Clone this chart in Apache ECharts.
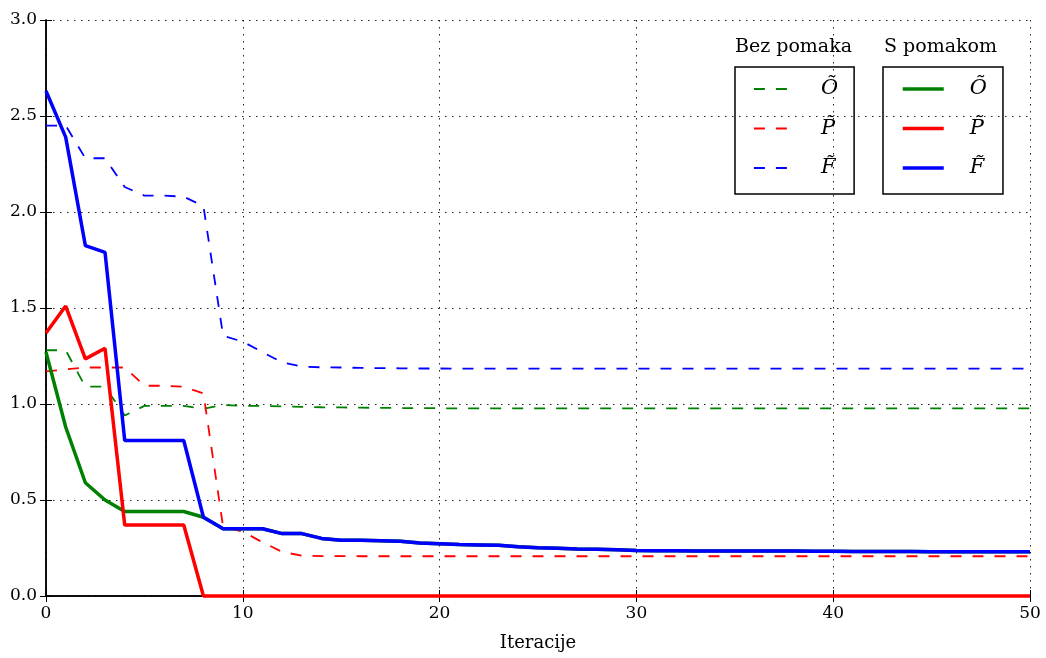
<!DOCTYPE html>
<html>
<head>
<meta charset="utf-8">
<script src="https://cdn.jsdelivr.net/npm/echarts@6/dist/echarts.min.js"></script>
<style>
  html, body { margin: 0; padding: 0; background: #fff; }
  #chart { width: 1046px; height: 658px; }
</style>
</head>
<body>
<div id="chart"></div>
<script>
// iteracije 0..50
const iters = Array.from({ length: 51 }, (_, i) => i)

// Bez pomaka (isprekidano)
const oBez = [1.28, 1.28, 1.09, 1.09, 0.94, 0.99, 0.99, 0.99, 0.975, 0.995,
  0.99, 0.99, 0.987, 0.985, 0.983, 0.982, 0.981, 0.980, 0.979, 0.978,
  0.978, 0.977, 0.977, 0.977, 0.977, 0.977, 0.977, 0.977, 0.977, 0.977,
  0.977, 0.977, 0.977, 0.977, 0.977, 0.977, 0.977, 0.977, 0.977, 0.977,
  0.977, 0.977, 0.977, 0.977, 0.977, 0.977, 0.977, 0.977, 0.977, 0.977, 0.977]
const pBez = [1.17, 1.18, 1.19, 1.19, 1.19, 1.095, 1.095, 1.09, 1.055, 0.36,
  0.335, 0.28, 0.23, 0.21, 0.208, 0.208, 0.207, 0.207, 0.207, 0.207,
  0.207, 0.207, 0.207, 0.207, 0.207, 0.207, 0.207, 0.207, 0.207, 0.207,
  0.207, 0.207, 0.207, 0.207, 0.207, 0.207, 0.207, 0.207, 0.207, 0.207,
  0.207, 0.207, 0.207, 0.207, 0.207, 0.207, 0.207, 0.207, 0.207, 0.207, 0.207]
const fBez = [2.45, 2.45, 2.28, 2.28, 2.13, 2.085, 2.085, 2.08, 2.03, 1.355,
  1.325, 1.27, 1.217, 1.195, 1.191, 1.19, 1.188, 1.187, 1.186, 1.185,
  1.185, 1.184, 1.184, 1.184, 1.184, 1.184, 1.184, 1.184, 1.184, 1.184,
  1.184, 1.184, 1.184, 1.184, 1.184, 1.184, 1.184, 1.184, 1.184, 1.184,
  1.184, 1.184, 1.184, 1.184, 1.184, 1.184, 1.184, 1.184, 1.184, 1.184, 1.184]

// S pomakom (puna linija)
const oS = [1.27, 0.88, 0.59, 0.50, 0.44, 0.44, 0.44, 0.44, 0.41, 0.35,
  0.35, 0.35, 0.325, 0.325, 0.30, 0.29, 0.29, 0.288, 0.285, 0.276,
  0.272, 0.268, 0.266, 0.264, 0.256, 0.251, 0.249, 0.245, 0.243, 0.241,
  0.237, 0.236, 0.236, 0.235, 0.235, 0.235, 0.234, 0.234, 0.234, 0.233,
  0.233, 0.232, 0.232, 0.232, 0.232, 0.231, 0.231, 0.231, 0.231, 0.230, 0.230]
const pS = [1.37, 1.51, 1.235, 1.29, 0.37, 0.37, 0.37, 0.37, 0, 0,
  0, 0, 0, 0, 0, 0, 0, 0, 0, 0,
  0, 0, 0, 0, 0, 0, 0, 0, 0, 0,
  0, 0, 0, 0, 0, 0, 0, 0, 0, 0,
  0, 0, 0, 0, 0, 0, 0, 0, 0, 0, 0]
const fS = [2.63, 2.39, 1.825, 1.79, 0.81, 0.81, 0.81, 0.81, 0.41, 0.35,
  0.35, 0.35, 0.325, 0.325, 0.30, 0.29, 0.29, 0.288, 0.285, 0.276,
  0.272, 0.268, 0.266, 0.264, 0.256, 0.251, 0.249, 0.245, 0.243, 0.241,
  0.237, 0.236, 0.236, 0.235, 0.235, 0.235, 0.234, 0.234, 0.234, 0.233,
  0.233, 0.232, 0.232, 0.232, 0.232, 0.231, 0.231, 0.231, 0.231, 0.230, 0.230]

const labels = { oBez: 'Õ', pBez: 'P̃', fBez: 'F̃', oS: 'Õ', pS: 'P̃', fS: 'F̃' }
const groupTitles = ['Bez pomaka', 'S pomakom']

const GREEN = '#008000', RED = '#ff0000', BLUE = '#0000ff'
const FONT = 'DejaVu Serif'

const chart = echarts.init(document.getElementById('chart'), null, { renderer: 'canvas' })

const pairs = arr => iters.map((x, i) => [x, arr[i]])

function dashed(name, data, color) {
  return {
    name, type: 'line', data: pairs(data), symbol: 'none', clip: false,
    lineStyle: { color, width: 1.8, type: [11, 11] },
    itemStyle: { color }, z: 2,
  }
}
function solid(name, data, color) {
  return {
    name, type: 'line', data: pairs(data), symbol: 'none', clip: false,
    lineStyle: { color, width: 3.5 },
    itemStyle: { color }, z: 3,
  }
}

const axisLine = { show: true, lineStyle: { color: '#000', width: 1.5 } }
const tick = { show: true, inside: true, length: 6, lineStyle: { color: '#000', width: 1 } }
const grid = { lineStyle: { color: '#222', width: 1, type: [1.5, 5.5] } }

const legendBase = {
  orient: 'vertical', top: 67, selectedMode: false,
  itemWidth: 41, itemHeight: 14, itemGap: 15.5,
  padding: [10, 16, 14, 18],
  borderColor: '#000', borderWidth: 1.5,
  itemStyle: { opacity: 0 },
  formatter: name => labels[name],
  textStyle: { fontFamily: FONT, fontStyle: 'italic', fontSize: 21, lineHeight: 24, color: '#000', padding: [0, 0, 0, 21] },
}

chart.setOption({
  animation: false,
  backgroundColor: '#fff',
  grid: { left: 46, right: 16, top: 20, bottom: 62 },
  textStyle: { fontFamily: FONT },
  legend: [
    Object.assign({}, legendBase, { left: 735, data: ['oBez', 'pBez', 'fBez'], lineStyle: { width: 1.8 } }),
    Object.assign({}, legendBase, { left: 883, data: ['oS', 'pS', 'fS'], lineStyle: { width: 3.5 } }),
  ],
  graphic: [
    { type: 'text', left: 735, top: 38, style: { text: groupTitles[0], font: '19px "DejaVu Serif"', fill: '#000' } },
    { type: 'text', left: 884, top: 38, style: { text: groupTitles[1], font: '19px "DejaVu Serif"', fill: '#000' } },
  ],
  xAxis: [
    {
      type: 'value', min: 0, max: 50, interval: 10, position: 'bottom',
      name: 'Iteracije', nameLocation: 'middle', nameGap: 38,
      nameTextStyle: { fontFamily: FONT, fontSize: 18, color: '#000' },
      axisLine, axisTick: tick,
      axisLabel: { color: '#000', fontFamily: FONT, fontSize: 17, margin: 9 },
      splitLine: Object.assign({ show: true }, grid),
    },
    {
      type: 'value', min: 0, max: 50, interval: 10, position: 'top',
      axisLine, axisTick: tick, axisLabel: { show: false }, splitLine: { show: false },
    },
  ],
  yAxis: [
    {
      type: 'value', min: 0, max: 3, interval: 0.5, position: 'left',
      axisLine, axisTick: tick,
      axisLabel: { color: '#000', fontFamily: FONT, fontSize: 17, margin: 9, formatter: v => v.toFixed(1) },
      splitLine: Object.assign({ show: true }, grid),
    },
    {
      type: 'value', min: 0, max: 3, interval: 0.5, position: 'right',
      axisLine, axisTick: tick, axisLabel: { show: false }, splitLine: { show: false },
    },
  ],
  series: [
    dashed('oBez', oBez, GREEN),
    dashed('pBez', pBez, RED),
    dashed('fBez', fBez, BLUE),
    solid('oS', oS, GREEN),
    solid('pS', pS, RED),
    solid('fS', fS, BLUE),
  ],
})

window.addEventListener('resize', () => chart.resize())
</script>
</body>
</html>
